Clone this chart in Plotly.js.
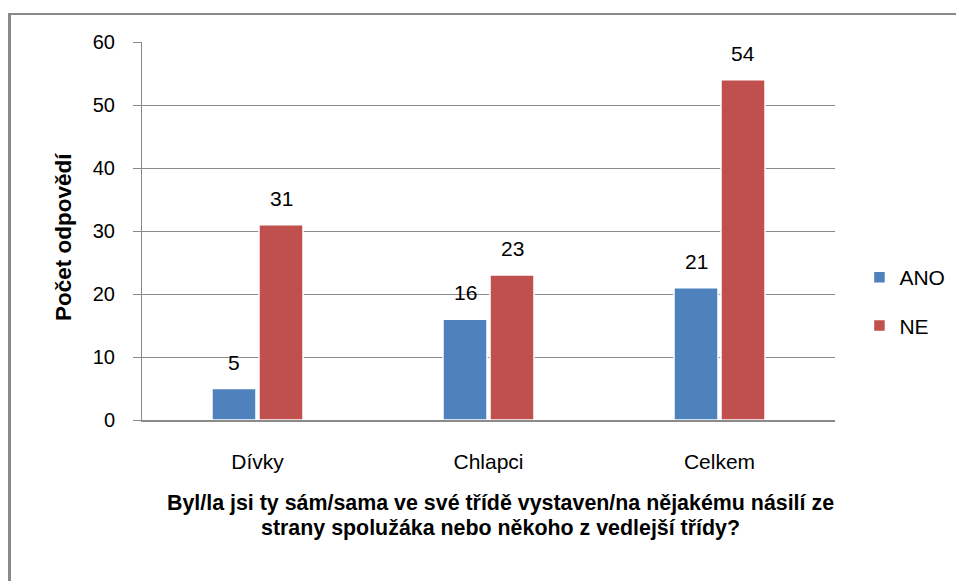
<!DOCTYPE html>
<html>
<head>
<meta charset="utf-8">
<script src="https://cdn.plot.ly/plotly-3.0.1.min.js"></script>
<style>
  html, body { margin: 0; padding: 0; background: #fff; overflow: hidden; }
  #wrap { position: relative; width: 956px; height: 581px; }
  #chart { position: absolute; left: 0; top: 0; width: 956px; height: 581px; }
  #frame { position: absolute; left: 8px; top: 13px; width: 1000px; height: 700px;
           border-left: 3px solid #8a8a8a; border-top: 2px solid #8a8a8a; pointer-events: none; }
</style>
</head>
<body>
<div id="wrap">
  <div id="chart"></div>
  <div id="frame"></div>
</div>
<script>
const categories = ["Dívky", "Chlapci", "Celkem"];
const seriesNames = ["ANO", "NE"];
const anoValues = [5, 16, 21];
const neValues = [31, 23, 54];
const yTickValues = [0, 10, 20, 30, 40, 50, 60];
const yAxisTitle = "Počet odpovědí";
const xAxisTitleLines = [
  "Byl/la jsi ty sám/sama ve své třídě vystaven/na nějakému násilí ze",
  "strany spolužáka nebo někoho z vedlejší třídy?"
];

const colors = ["#4F81BD", "#C0504D"];
const FONT = "'Liberation Sans', Arial, sans-serif";

const allSeries = [anoValues, neValues];
const traces = allSeries.map((vals, i) => ({
  type: "bar",
  name: seriesNames[i],
  x: categories,
  y: vals,
  legendgroup: "g" + i,
  marker: { color: colors[i], line: { color: "#ffffff", width: 1.5 } },
  hoverinfo: "none"
}));

const annotations = [];
allSeries.forEach((vals, i) => {
  vals.forEach((v, j) => {
    annotations.push({
      x: categories[j], y: v, xref: "x", yref: "y",
      text: String(v), showarrow: false,
      xshift: (i === 0 ? -23.5 : 23.5), yanchor: "bottom", yshift: 13,
      font: { family: FONT, size: 21, color: "#000" }
    });
  });
});

// axis titles as text annotations for precise placement
xAxisTitleLines.forEach((line, k) => {
  annotations.push({
    xref: "paper", yref: "paper",
    x: 0.518, y: 0, xanchor: "center", yanchor: "middle",
    yshift: -83 - 25 * k,
    text: line, showarrow: false,
    font: { family: FONT, size: 21.4, color: "#000", weight: "bold" }
  });
});
annotations.push({
  xref: "paper", yref: "paper",
  x: 0, y: 0.484, xshift: -79, xanchor: "center", yanchor: "middle",
  textangle: -90, text: yAxisTitle, showarrow: false,
  font: { family: FONT, size: 22.5, color: "#000", weight: "bold" }
});

const layout = {
  width: 956, height: 581,
  margin: { l: 142, r: 121, t: 42, b: 161 },
  paper_bgcolor: "#ffffff", plot_bgcolor: "#ffffff",
  barmode: "group", bargap: 0.593, bargroupgap: 0.064,
  showlegend: true,
  legend: {
    xref: "container", yref: "container",
    x: 0.899, xanchor: "left", y: 0.481, yanchor: "middle",
    font: { family: FONT, size: 21, color: "#000" },
    traceorder: "grouped", tracegroupgap: 18,
    bgcolor: "rgba(0,0,0,0)"
  },
  xaxis: {
    type: "category",
    showgrid: false, zeroline: false,
    showline: true, linecolor: "#8a8a8a", linewidth: 2,
    ticks: "", tickfont: { family: FONT, size: 21, color: "#000" },
    ticklabelstandoff: 22,
    fixedrange: true
  },
  yaxis: {
    range: [0, 60], tickvals: yTickValues,
    showgrid: true, gridcolor: "#8a8a8a", gridwidth: 1,
    zeroline: false,
    showline: true, linecolor: "#8a8a8a", linewidth: 1,
    ticks: "outside", ticklen: 8, tickcolor: "#8a8a8a",
    tickfont: { family: FONT, size: 20, color: "#000" },
    ticklabelstandoff: 14,
    fixedrange: true
  },
  annotations: annotations
};

Plotly.newPlot("chart", traces, layout, { displayModeBar: false, staticPlot: true });
</script>
</body>
</html>
